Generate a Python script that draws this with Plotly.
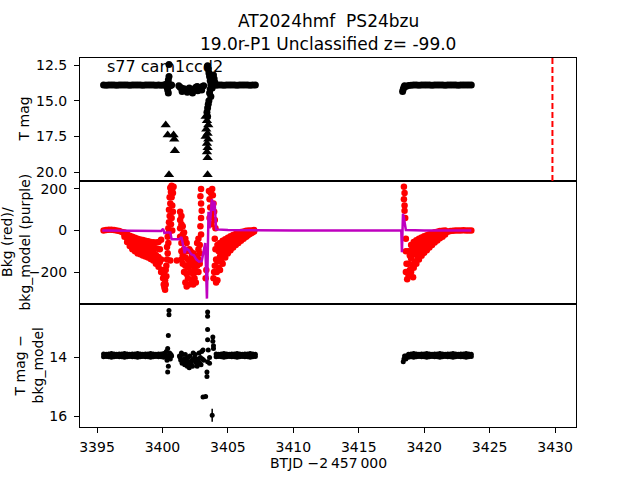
import plotly.graph_objects as go
from plotly.subplots import make_subplots

# ---------------- data ----------------
t_a = [3395.5, 3395.7, 3395.9, 3396.1, 3396.3, 3396.5, 3396.7, 3396.9, 3397.1, 3397.3, 3397.5, 3397.7,
       3397.9, 3398.1, 3398.3, 3398.5, 3398.7, 3398.9, 3399.1, 3399.3, 3399.5, 3399.7, 3399.9, 3400.1]
t_b = [3404.1, 3404.3, 3404.5, 3404.7, 3404.9, 3405.1, 3405.3, 3405.5, 3405.7, 3405.9, 3406.1, 3406.3,
       3406.5, 3406.7, 3406.9, 3407.1]
t_c = [3418.6, 3418.8, 3419.0, 3419.2, 3419.4, 3419.6, 3419.8, 3420.0, 3420.2, 3420.4, 3420.6, 3420.8,
       3421.0, 3421.2, 3421.4, 3421.6, 3421.8, 3422.0, 3422.2, 3422.4, 3422.6, 3422.8, 3423.0, 3423.2,
       3423.4, 3423.6]

# T mag (top panel), quiet parts
tmag_a = [13.90, 13.91, 13.89, 13.90, 13.90, 13.91, 13.90, 13.89, 13.90, 13.90, 13.91, 13.90,
          13.90, 13.89, 13.90, 13.91, 13.90, 13.90, 13.89, 13.90, 13.91, 13.90, 13.92, 13.90]
tmag_b = [13.92, 13.90, 13.90, 13.91, 13.90, 13.89, 13.90, 13.90, 13.91, 13.90, 13.90, 13.89,
          13.90, 13.91, 13.90, 13.90]
tmag_c = [14.00, 13.93, 13.91, 13.90, 13.90, 13.91, 13.90, 13.89, 13.90, 13.90, 13.91, 13.90,
          13.90, 13.89, 13.90, 13.91, 13.90, 13.90, 13.89, 13.90, 13.91, 13.90, 13.90, 13.89,
          13.90, 13.90]
# T mag, active parts
t_top_x = [3400.2, 3400.3, 3400.35, 3400.4, 3400.4, 3400.45, 3400.45, 3400.5, 3400.5, 3400.55, 3400.6,
           3400.65, 3400.7,
           3401.25, 3401.35, 3401.45, 3401.55, 3401.65, 3401.75, 3401.85, 3401.95, 3402.05, 3402.15,
           3402.25, 3402.35, 3402.45, 3402.55, 3402.65, 3402.75, 3402.85, 3402.95, 3403.05, 3403.15,
           3401.5, 3401.9, 3402.3, 3402.7, 3403.0,
           3403.45, 3403.5, 3403.55, 3403.6, 3403.65, 3403.7, 3403.65, 3403.6, 3403.7, 3403.55, 3403.5,
           3403.45, 3403.4, 3403.45, 3403.9, 3403.95, 3404.0, 3403.8,
           3418.35, 3418.4, 3418.45, 3418.5]
tmag_x = [13.90, 13.85, 14.05, 13.80, 14.25, 14.45, 13.55, 13.30, 12.45, 13.95, 13.90,
          13.92, 13.90,
          13.95, 14.05, 14.10, 14.20, 14.15, 14.25, 14.30, 14.20, 14.10, 14.20,
          14.30, 14.25, 14.15, 14.05, 14.00, 14.05, 14.15, 14.10, 14.00, 13.95,
          14.35, 14.40, 14.45, 14.30, 14.25,
          12.55, 12.75, 13.05, 13.30, 13.60, 13.90, 14.20, 14.45, 14.70, 15.00, 15.25,
          15.50, 15.80, 16.10, 13.20, 13.45, 13.70, 14.10,
          14.35, 14.20, 14.05, 13.95]
# upper limits (triangles)
t_lim = [3400.25, 3400.4, 3400.85, 3400.9, 3400.95, 3400.5,
         3403.3, 3403.4, 3403.5, 3403.35, 3403.45, 3403.3, 3403.5, 3403.4, 3403.45, 3403.4, 3403.45, 3403.45]
mag_lim = [16.7, 17.4, 17.4, 17.7, 18.5, 20.2,
           16.1, 16.4, 16.7, 17.0, 17.3, 17.5, 17.7, 18.0, 18.3, 18.6, 19.0, 20.2]

# ---- Bkg (red points, middle panel) ----
# quiet start
bkg_t0 = [3395.5, 3395.7, 3395.9, 3396.1, 3396.3, 3396.5, 3396.7, 3396.9]
bkg_v0 = [0, 2, 3, 3, 2, 0, -3, -8]
# decline before the first flare: rows across the band
band1_t = [3397.1, 3397.3, 3397.5, 3397.7, 3397.9, 3398.1, 3398.3, 3398.5, 3398.7, 3398.9, 3399.1,
           3399.3, 3399.5, 3399.7, 3399.9]
band1_up = [-10, -18, -25, -30, -35, -40, -43, -46, -50, -52, -55, -57, -58, -55, -45]
band1_mid = [-20, -35, -50, -62, -72, -80, -85, -90, -95, -100, -105, -110, -118, -128, -140]
band1_low = [-30, -55, -75, -90, -100, -110, -115, -120, -125, -130, -137, -145, -160, -175, -200]
band1_t2 = [3397.2, 3397.4, 3397.6, 3397.8, 3398.0, 3398.2, 3398.4, 3398.6, 3398.8, 3399.0, 3399.2,
            3399.4, 3399.6, 3399.8]
band1_mu = [-15, -25, -37, -45, -52, -60, -64, -68, -72, -76, -80, -84, -88, -90]
band1_ml = [-28, -45, -62, -76, -86, -95, -100, -105, -110, -115, -121, -128, -139, -152]
# first flare column
col1_t = [3400.0, 3400.05, 3400.1, 3400.15, 3400.2, 3400.25, 3400.1, 3400.2, 3400.3, 3400.25, 3400.3,
          3400.35, 3400.4, 3400.35, 3400.45, 3400.4, 3400.5, 3400.45,
          3400.5, 3400.55, 3400.5, 3400.6, 3400.55, 3400.65, 3400.6, 3400.7, 3400.75, 3400.8, 3400.85,
          3400.7, 3400.75, 3400.8, 3400.7, 3400.65, 3400.75, 3400.6, 3401.1]
col1_v = [-190, -230, -260, -275, -285, -260, -210, -240, -220, -190, -170,
          -140, -110, -80, -60, -30, -10, 10,
          40, 70, 100, 130, 160, 185, 205, 215, 200, 180, 210,
          160, 120, 90, 60, 30, 0, -145, -145]
# chaotic middle segment
col2_t = [3401.35, 3401.35, 3401.35, 3401.35, 3401.45, 3401.45, 3401.45, 3401.45, 3401.45,
          3401.55, 3401.55, 3401.55, 3401.55, 3401.65, 3401.65, 3401.65, 3401.65,
          3401.75, 3401.75, 3401.75, 3401.75, 3401.85, 3401.85, 3401.85, 3401.85,
          3401.95, 3401.95, 3401.95, 3402.05, 3402.05, 3402.05, 3402.15, 3402.15, 3402.15,
          3402.25, 3402.25, 3402.25, 3402.35, 3402.35, 3402.35, 3402.35, 3402.45, 3402.45, 3402.45,
          3402.55, 3402.55, 3402.55, 3402.65, 3402.65, 3402.65, 3402.75, 3402.75, 3402.75, 3402.75,
          3402.85, 3402.85, 3402.85,
          3402.95, 3402.9, 3402.95, 3403.0, 3402.95, 3402.9, 3402.95]
col2_v = [90, 50, 10, -30, 70, 30, -60, -100, -140,
          20, -20, -120, -160, -10, -50, -90, -200,
          -40, -130, -170, -250, -60, -100, -210, -270,
          -140, -180, -230, -90, -160, -260, -100, -140, -200,
          -120, -170, -240, -110, -150, -210, -260, -130, -190, -230,
          -150, -200, -250, -60, -120, -170, -40, -90, -140, -200,
          -70, -110, -160,
          200, 165, 130, 95, 60, 20, -20]
# second flare column
col3_t = [3403.55, 3403.6, 3403.65, 3403.7, 3403.75, 3403.8, 3403.85, 3403.9, 3403.95, 3404.0, 3404.05,
          3403.7, 3403.6,
          3403.3, 3403.35, 3403.9, 3403.95, 3404.0, 3404.05, 3404.1, 3404.1, 3404.15, 3404.0]
col3_v = [190, 150, 110, 70, 30, 200, 170, 130, 90, 50, 10,
          180, 60,
          -230, -190, -230, -200, -40, -90, -140, -250, -200, -170]
# recovery after 3404
band2_t = [3404.2, 3404.4, 3404.6, 3404.8, 3405.0, 3405.2, 3405.4, 3405.6, 3405.8, 3406.0, 3406.2,
           3406.4, 3406.6, 3406.8, 3407.0]
band2_up = [-70, -60, -50, -42, -35, -28, -22, -17, -12, -8, -5, -2, 0, 0, 2]
band2_mid = [-150, -125, -105, -88, -75, -65, -56, -48, -40, -33, -26, -19, -12, -6, -2]
band2_low = [-240, -190, -160, -130, -110, -95, -82, -70, -60, -50, -40, -30, -20, -12, -5]
band2_t2 = [3404.3, 3404.5, 3404.7, 3404.9, 3405.1, 3405.3, 3405.5, 3405.7, 3405.9, 3406.1, 3406.3,
            3406.5, 3406.7, 3406.9]
band2_mu = [-100, -85, -72, -60, -52, -45, -38, -32, -26, -20, -15, -10, -6, -3]
band2_ml = [-180, -150, -125, -105, -90, -80, -68, -58, -48, -40, -32, -24, -16, -9]
# third segment
col4_t = [3418.45, 3418.5, 3418.45, 3418.5, 3418.5, 3418.55, 3418.6, 3418.6, 3418.65, 3418.6, 3418.7,
          3419.15]
col4_v = [210, 180, 150, 120, 95, 60, -40, -100, -160, -200, -235, -225]
band3_t = [3418.8, 3419.0, 3419.2, 3419.4, 3419.6, 3419.8, 3420.0, 3420.2, 3420.4, 3420.6, 3420.8,
           3421.0, 3421.2, 3421.4, 3421.6]
band3_up = [-100, -70, -55, -47, -40, -34, -28, -23, -18, -13, -9, -6, -3, -1, 0]
band3_mid = [-160, -135, -115, -105, -92, -80, -70, -60, -52, -42, -35, -28, -22, -16, -10]
band3_low = [-215, -200, -180, -160, -140, -122, -108, -95, -82, -70, -58, -48, -38, -30, -20]
band3_t2 = [3418.9, 3419.1, 3419.3, 3419.5, 3419.7, 3419.9, 3420.1, 3420.3, 3420.5, 3420.7, 3420.9,
            3421.1, 3421.3, 3421.5]
band3_mu = [-120, -90, -80, -70, -62, -54, -47, -40, -33, -27, -21, -16, -11, -7]
band3_ml = [-190, -165, -150, -130, -115, -100, -88, -76, -65, -55, -45, -37, -28, -20]
tail3_t = [3421.8, 3422.0, 3422.2, 3422.4, 3422.6, 3422.8, 3423.0, 3423.2, 3423.4, 3423.6]
tail3_v = [-6, -3, -1, 0, 0, 0, 1, 0, 0, 0]

# bkg_model (purple line)
t_model = [3395.4, 3396.0, 3397.0, 3398.0, 3399.0, 3399.9, 3400.05, 3400.15, 3400.3, 3400.6, 3400.7,
           3401.3, 3401.45, 3401.6, 3401.7, 3401.8, 3402.0, 3402.2, 3402.4, 3402.6, 3402.8, 3403.0,
           3403.15, 3403.27, 3403.4, 3403.52, 3403.6, 3403.7, 3403.78, 3403.9, 3403.98, 3404.1, 3405.0,
           3410.0, 3418.25, 3418.3, 3418.38, 3418.45, 3418.6, 3420.0, 3423.6]
bkg_model = [0, 0, 0, -1, -2, -3, 8, -12, -10, -10, -42,
             -42, -32, -75, -110, -85, -95, -115, -120, -140, -150, -148,
             -100, -60, -328, 90, 10, 110, 150, 95, 140, 5, 2,
             0, 0, -105, 80, 60, 2, 0, 0]

# T mag - bkg_model (bottom panel)
dmag_a1 = [13.88, 13.89, 13.88, 13.87, 13.88, 13.89, 13.88, 13.88, 13.87, 13.88, 13.89, 13.88,
           13.88, 13.87, 13.88, 13.89, 13.88, 13.88, 13.87, 13.88, 13.89, 13.88, 13.88, 13.87]
dmag_a2 = [13.98, 13.97, 13.98, 13.99, 13.98, 13.97, 13.98, 13.98, 13.99, 13.98, 13.97, 13.98,
           13.98, 13.99, 13.98, 13.97, 13.98, 13.98, 13.99, 13.98, 13.97, 13.98, 13.98, 13.99]
dmag_b1 = [13.88, 13.89, 13.88, 13.87, 13.88, 13.89, 13.88, 13.88, 13.87, 13.88, 13.89, 13.88,
           13.88, 13.87, 13.88, 13.89]
dmag_b2 = [13.98, 13.97, 13.98, 13.99, 13.98, 13.97, 13.98, 13.98, 13.99, 13.98, 13.97, 13.98,
           13.98, 13.99, 13.98, 13.97]
dmag_c1 = [13.95, 13.89, 13.88, 13.87, 13.88, 13.89, 13.88, 13.88, 13.87, 13.88, 13.89, 13.88,
           13.88, 13.87, 13.88, 13.89, 13.88, 13.88, 13.87, 13.88, 13.89, 13.88, 13.88, 13.87,
           13.88, 13.89]
dmag_c2 = [14.05, 13.99, 13.98, 13.99, 13.98, 13.97, 13.98, 13.98, 13.99, 13.98, 13.97, 13.98,
           13.98, 13.99, 13.98, 13.97, 13.98, 13.98, 13.99, 13.98, 13.97, 13.98, 13.98, 13.99,
           13.98, 13.97]
t_diff_x = [3400.2, 3400.3, 3400.35, 3400.4, 3400.45, 3400.4, 3400.45, 3400.5, 3400.5, 3400.55,
            3400.6, 3400.65, 3400.7, 3400.5, 3400.35,
            3401.3, 3401.4, 3401.5, 3401.55, 3401.6, 3401.7, 3401.8, 3401.9, 3402.0, 3402.1, 3402.2,
            3402.3, 3402.4, 3402.5, 3402.6, 3402.7, 3402.8, 3402.9, 3403.0, 3403.1, 3403.15, 3401.45,
            3401.75, 3402.05, 3402.35, 3402.65, 3402.95, 3401.35, 3401.65, 3401.95, 3402.25, 3402.55,
            3402.85, 3403.05, 3401.85, 3402.15, 3402.45, 3402.75,
            3403.45, 3403.45, 3403.45, 3403.45, 3403.5, 3403.45, 3403.4, 3403.4, 3403.1, 3403.3,
            3403.85, 3403.85, 3403.9, 3403.9, 3403.6, 3403.6,
            3418.4, 3418.45, 3418.5]
dmag_x = [13.90, 13.80, 14.10, 13.70, 14.30, 14.50, 13.25, 12.40, 12.55, 13.85,
          14.05, 13.90, 13.95, 14.00, 13.95,
          13.95, 14.10, 14.20, 13.90, 14.15, 14.25, 14.05, 14.30, 14.15, 13.95, 14.20,
          14.30, 14.10, 13.90, 14.20, 14.05, 13.85, 14.00, 13.80, 13.75, 14.10, 13.85,
          13.90, 14.35, 13.85, 14.30, 14.25, 14.00, 14.05, 14.00, 14.10, 14.15,
          14.20, 14.05, 14.15, 14.25, 14.00, 14.15,
          12.45, 12.60, 13.05, 13.40, 13.75, 14.15, 14.50, 14.65, 15.35, 15.33,
          13.30, 13.45, 13.60, 13.70, 14.00, 14.20,
          14.15, 14.05, 13.95]
t_err = [3403.8]
dmag_err = [15.97]
err_val = [0.22]

# ---------------- figure ----------------
FONT = "DejaVu Sans"
X_RANGE = [3393.7, 3431.6]

fig = make_subplots(rows=3, cols=1, shared_xaxes=True, vertical_spacing=0)

blk = dict(color="black", size=7, symbol="circle", line=dict(width=0))
fig.add_trace(go.Scatter(x=t_a + t_b + t_c + t_top_x, y=tmag_a + tmag_b + tmag_c + tmag_x,
                         mode="markers", marker=blk, showlegend=False), row=1, col=1)
fig.add_trace(go.Scatter(x=t_lim, y=mag_lim, mode="markers",
                         marker=dict(color="black", size=9, symbol="triangle-up", line=dict(width=0)),
                         showlegend=False), row=1, col=1)

red_t = (bkg_t0 + band1_t * 3 + band1_t2 * 2 + col1_t + col2_t + col3_t + band2_t * 3 + band2_t2 * 2
         + col4_t + band3_t * 3 + band3_t2 * 2 + tail3_t)
red_v = (bkg_v0 + band1_up + band1_mid + band1_low + band1_mu + band1_ml + col1_v + col2_v + col3_v
         + band2_up + band2_mid + band2_low + band2_mu + band2_ml
         + col4_v + band3_up + band3_mid + band3_low + band3_mu + band3_ml + tail3_v)
fig.add_trace(go.Scatter(x=red_t, y=red_v, mode="markers",
                         marker=dict(color="#ff0000", size=6.5, line=dict(width=0)),
                         showlegend=False), row=2, col=1)
fig.add_trace(go.Scatter(x=t_model, y=bkg_model, mode="lines",
                         line=dict(color="#bf00bf", width=2.5), showlegend=False), row=2, col=1)

fig.add_trace(go.Scatter(x=t_a + t_a + t_b + t_b + t_c + t_c + t_diff_x,
                         y=dmag_a1 + dmag_a2 + dmag_b1 + dmag_b2 + dmag_c1 + dmag_c2 + dmag_x,
                         mode="markers", marker=dict(color="black", size=5, line=dict(width=0)),
                         showlegend=False), row=3, col=1)
fig.add_trace(go.Scatter(x=t_err, y=dmag_err, mode="markers",
                         marker=dict(color="black", size=5),
                         error_y=dict(type="data", array=err_val, color="black", thickness=1.5, width=0),
                         showlegend=False), row=3, col=1)

axis_common = dict(showline=True, mirror=True, linecolor="black", linewidth=1, showgrid=False,
                   zeroline=False, ticks="outside", ticklen=5, tickwidth=1, tickcolor="black",
                   tickfont=dict(family=FONT, size=14, color="black"))

for r in (1, 2):
    fig.update_xaxes(range=X_RANGE, showline=True, mirror=True, linecolor="black", linewidth=1,
                     showgrid=False, zeroline=False, ticks="", showticklabels=False, row=r, col=1)
fig.update_xaxes(range=X_RANGE, tickvals=[3395, 3400, 3405, 3410, 3415, 3420, 3425, 3430],
                 ticklabelstandoff=2, row=3, col=1, **axis_common)

fig.update_yaxes(range=[20.63, 12.0], tickvals=[12.5, 15.0, 17.5, 20.0],
                 ticktext=["12.5", "15.0", "17.5", "20.0"], ticklabelstandoff=4, row=1, col=1, **axis_common)
fig.update_yaxes(range=[-354, 238], tickvals=[-200, 0, 200], ticktext=["\u2212200", "0", "200"],
                 ticklabelstandoff=4, row=2, col=1, **axis_common)
fig.update_yaxes(range=[16.37, 12.18], tickvals=[14, 16], ticktext=["14", "16"],
                 ticklabelstandoff=4, row=3, col=1, **axis_common)

# red dashed vertical line in top panel
fig.add_shape(type="line", xref="x", yref="y domain", x0=3429.8, x1=3429.8, y0=0, y1=1,
              line=dict(color="#ff0000", width=2, dash="6px,3px"))

txt = dict(family=FONT, color="black")
ann = [
    dict(text="AT2024hmf  PS24bzu", x=0.5, y=1.0995, font=dict(size=17, **txt)),
    dict(text="19.0r-P1 Unclassified z= -99.0", x=0.5, y=1.037, font=dict(size=17, **txt)),
    dict(text="s77 cam1ccd2", x=0.0504, y=0.977, xanchor="left", font=dict(size=16, **txt)),
    dict(text="T mag", x=-0.1129, y=0.8333, textangle=-90, font=dict(size=14, **txt)),
    dict(text="Bkg (red)/<br>bkg_model (purple)", x=-0.131, y=0.5, textangle=-90,
         font=dict(size=14, **txt)),
    dict(text="T mag \u2212<br>bkg_model", x=-0.1028, y=0.1667, textangle=-90, font=dict(size=14, **txt)),
    dict(text="BTJD \u22122\u2009457\u2009000", x=0.5, y=-0.0976, font=dict(size=14, **txt)),
]
for a in ann:
    a.setdefault("xanchor", "center")
    a.update(xref="paper", yref="paper", yanchor="middle", showarrow=False)
    fig.add_annotation(**a)

fig.update_layout(width=640, height=480, margin=dict(l=80, r=64, t=58, b=53),
                  paper_bgcolor="white", plot_bgcolor="white", font=dict(family=FONT, color="black"),
                  showlegend=False)

# the page's default 8px body margin would shift the whole figure; remove it
fig.write_html("out.html", config={"displayModeBar": False},
               post_script="document.body.style.margin='0';")
